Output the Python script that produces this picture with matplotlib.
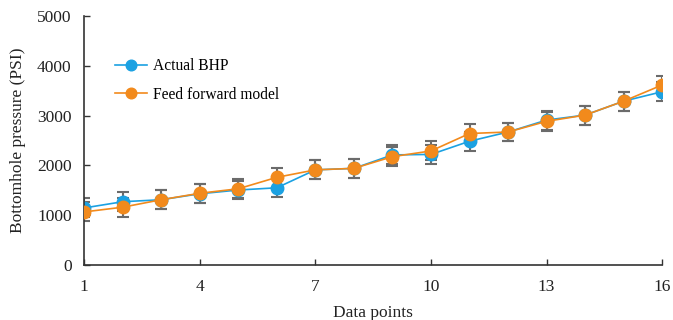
import matplotlib.pyplot as plt

plt.rcParams['font.family'] = ['Liberation Serif', 'DejaVu Serif']

points = list(range(1, 17))
actual_bhp = [1145, 1270, 1310, 1430, 1505, 1550, 1910, 1940, 2210, 2220, 2485, 2670, 2910, 3010, 3290, 3480]
feed_forward = [1065, 1160, 1310, 1440, 1530, 1760, 1910, 1940, 2175, 2290, 2640, 2670, 2885, 3010, 3290, 3615]
err = 190

blue = '#1ba1e2'
orange = '#f28a1c'

fig = plt.figure(figsize=(6.73, 3.2), dpi=100)
ax = fig.add_axes([0.125, 0.172, 0.859, 0.778])

ax.errorbar(points, actual_bhp, yerr=err, fmt='none', ecolor='#6b6b6b', elinewidth=1.5, capsize=4, capthick=1.5, zorder=1)
ax.errorbar(points, feed_forward, yerr=err, fmt='none', ecolor='#6b6b6b', elinewidth=1.5, capsize=4, capthick=1.5, zorder=1)
ax.plot(points, actual_bhp, color=blue, marker='o', markersize=9, linewidth=1.2, label='Actual BHP', zorder=2)
ax.plot(points, feed_forward, color=orange, marker='o', markersize=9, linewidth=1.2, label='Feed forward model', zorder=3)

ax.set_xlim(1, 16)
ax.set_ylim(0, 5000)
ax.set_xticks([1, 4, 7, 10, 13, 16])
ax.set_yticks([0, 1000, 2000, 3000, 4000, 5000])
ax.tick_params(direction='in', labelsize=12.5, length=4, width=1, colors='#333333', labelcolor='#222222')
ax.tick_params(axis='y', pad=9)
ax.tick_params(axis='x', pad=10)
ax.spines['top'].set_visible(False)
ax.spines['right'].set_visible(False)
for s in ['left', 'bottom']:
    ax.spines[s].set_color('#333333')
    ax.spines[s].set_linewidth(1.2)

ax.set_xlabel('Data points', fontsize=12.5, labelpad=7.5, color='#222222')
ax.set_ylabel('Bottomhole pressure (PSI)', fontsize=12.5, labelpad=8, color='#222222')
ax.legend(loc='upper left', bbox_to_anchor=(0.03, 0.886), frameon=False, fontsize=11.2,
          handlelength=2.0, handletextpad=0.4, markerscale=0.85, labelspacing=0.8)

fig.savefig('out.png', dpi=100)
